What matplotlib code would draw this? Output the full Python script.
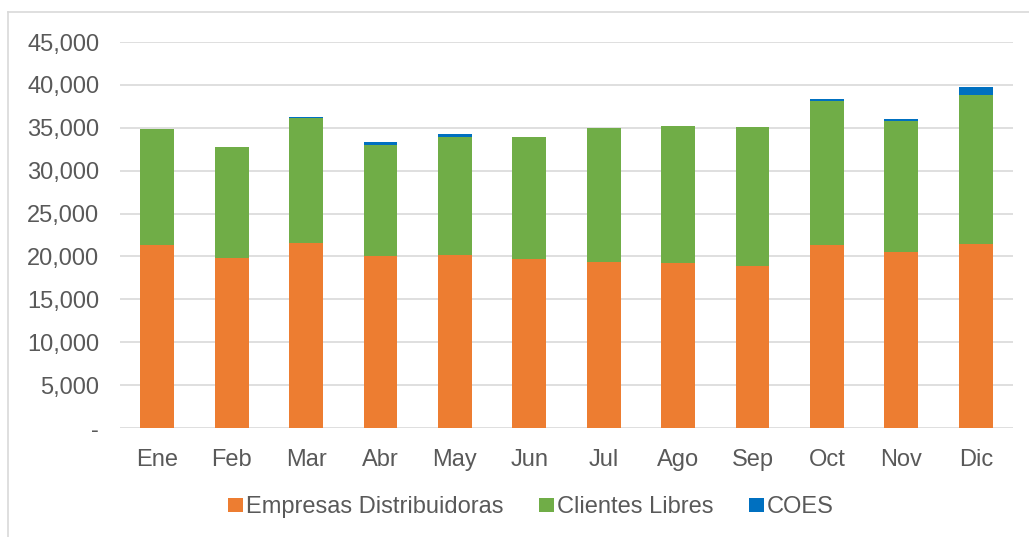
import numpy as np
import matplotlib.pyplot as plt
from matplotlib.lines import Line2D
from matplotlib.ticker import FuncFormatter

plt.rcParams['font.family'] = ['Liberation Sans', 'DejaVu Sans']

months = ['Ene', 'Feb', 'Mar', 'Abr', 'May', 'Jun', 'Jul', 'Ago', 'Sep', 'Oct', 'Nov', 'Dic']
distribuidoras = [21330, 19850, 21560, 20050, 20160, 19650, 19350, 19230, 18880, 21330, 20510, 21400]
clientes_libres = [13470, 12960, 14560, 13000, 13820, 14220, 15570, 15920, 16240, 16740, 15260, 17370]
coes = [20, 0, 180, 350, 350, 0, 0, 60, 0, 230, 300, 970]

c_dist = '#ED7D31'
c_cli = '#70AD47'
c_coes = '#0070C0'
txt = '#595959'
grid = '#D9D9D9'

W, H = 1029, 537
fig = plt.figure(figsize=(W / 100, H / 100), dpi=100)
ax = fig.add_axes([120 / W, 1 - 428 / H, (1013 - 120) / W, (428 - 42) / H])

x = np.arange(len(months))
d = np.array(distribuidoras)
c = np.array(clientes_libres)
e = np.array(coes)
bw = 0.455
ax.bar(x, d, bw, color=c_dist, label='Empresas Distribuidoras', zorder=3)
ax.bar(x, c, bw, bottom=d, color=c_cli, label='Clientes Libres', zorder=3)
ax.bar(x, e, bw, bottom=d + c, color=c_coes, label='COES', zorder=3)

ax.set_xlim(-0.5, len(months) - 0.5)
ax.set_ylim(0, 45000)
ax.set_yticks(np.arange(0, 45001, 5000))
ax.yaxis.set_major_formatter(FuncFormatter(lambda v, p: '-' if v == 0 else f'{int(v):,}'))
ax.set_xticks(x)
ax.set_xticklabels(months)
ax.grid(axis='y', color=grid, linewidth=1.2, zorder=0)
for s in ax.spines.values():
    s.set_visible(False)
ax.tick_params(axis='both', length=0, labelsize=17, colors=txt)
ax.tick_params(axis='y', pad=15)
ax.tick_params(axis='x', pad=15)

leg = ax.legend(loc='center', bbox_to_anchor=((531 - 120) / 893, (428 - 507) / (428 - 42)), ncol=3,
                frameon=False, fontsize=17, handlelength=0.64, handleheight=0.55,
                handletextpad=0.13, columnspacing=1.5)
for t in leg.get_texts():
    t.set_color(txt)

# outer chart border (top and left visible)
fig.add_artist(Line2D([8 / W, 1], [1 - 12 / H, 1 - 12 / H], color=grid, lw=1.2))
fig.add_artist(Line2D([8 / W, 8 / W], [0, 1 - 12 / H], color=grid, lw=1.2))

fig.savefig('out.png', dpi=100)
